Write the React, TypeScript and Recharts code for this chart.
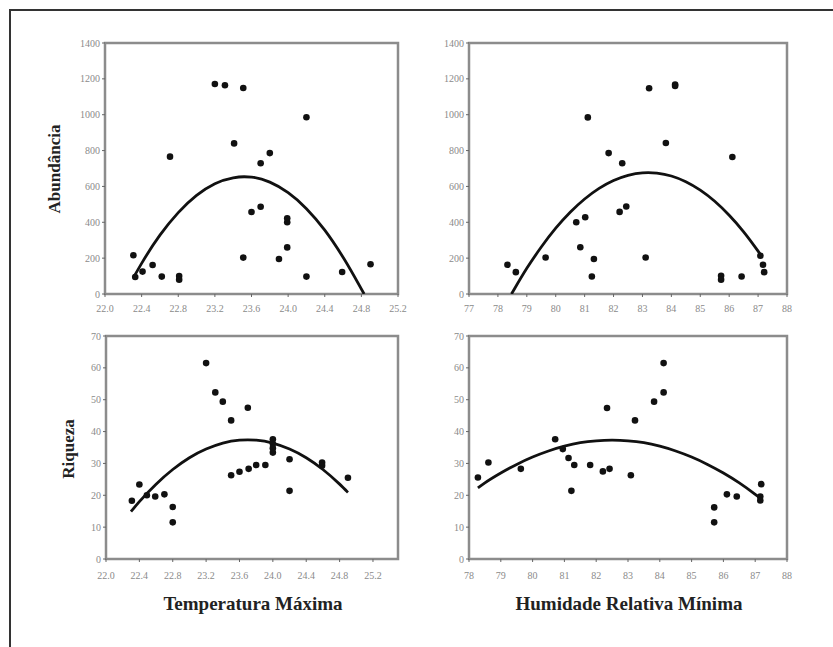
import { ScatterChart, Scatter, XAxis, YAxis, ReferenceArea } from 'recharts'

// tick labels
const tempTicks = [22.0, 22.4, 22.8, 23.2, 23.6, 24.0, 24.4, 24.8, 25.2]
const humTopTicks = [77, 78, 79, 80, 81, 82, 83, 84, 85, 86, 87, 88]
const humBottomTicks = [78, 79, 80, 81, 82, 83, 84, 85, 86, 87, 88]
const abundTicks = [0, 200, 400, 600, 800, 1000, 1200, 1400]
const riqTicks = [0, 10, 20, 30, 40, 50, 60, 70]

const abundVsTemp = [
  [22.31, 216], [22.33, 95], [22.41, 125], [22.52, 162], [22.62, 97], [22.71, 766],
  [22.81, 100], [22.81, 80], [23.2, 1171], [23.31, 1164], [23.51, 1149], [23.41, 840],
  [23.51, 203], [23.6, 457], [23.7, 487], [23.7, 729], [23.8, 786], [23.9, 195],
  [23.99, 422], [23.99, 400], [23.99, 260], [24.2, 986], [24.2, 97], [24.59, 123],
  [24.9, 166],
]
const abundVsHum = [
  [78.33, 163], [78.62, 122], [79.65, 204], [80.71, 400], [80.85, 261], [81.02, 428],
  [81.11, 985], [81.25, 98], [81.32, 195], [81.83, 786], [82.21, 458], [82.3, 729],
  [82.44, 488], [83.11, 204], [83.23, 1148], [83.81, 842], [84.13, 1168], [84.13, 1160],
  [85.72, 102], [85.72, 80], [86.11, 764], [86.43, 98], [87.08, 213], [87.17, 163],
  [87.21, 122],
]
const riqVsTemp = [
  [22.31, 18.3], [22.4, 23.4], [22.49, 20.0], [22.59, 19.6], [22.7, 20.3], [22.8, 16.3],
  [22.8, 11.5], [23.2, 61.5], [23.31, 52.3], [23.4, 49.4], [23.5, 43.5], [23.7, 47.5],
  [23.5, 26.3], [23.6, 27.4], [23.71, 28.3], [23.8, 29.5], [23.91, 29.5], [24.0, 37.6],
  [24.0, 36.2], [24.0, 34.8], [24.0, 33.4], [24.2, 31.3], [24.2, 21.4], [24.59, 30.3],
  [24.59, 29.3], [24.9, 25.5],
]
const riqVsHum = [
  [78.28, 25.6], [78.61, 30.3], [79.63, 28.3], [80.71, 37.6], [80.95, 34.5], [81.13, 31.7],
  [81.31, 29.5], [81.22, 21.4], [81.81, 29.5], [82.21, 27.5], [82.34, 47.4], [82.42, 28.3],
  [83.09, 26.3], [83.22, 43.5], [83.82, 49.4], [84.12, 61.5], [84.12, 52.3], [85.71, 16.2],
  [85.71, 11.5], [86.11, 20.3], [86.42, 19.6], [87.16, 19.6], [87.16, 18.4], [87.19, 23.5],
]

// fitted curves, sampled from the figure
const abundTempFit = [
  [22.32, 100], [22.4, 171], [22.6, 328], [22.8, 454], [23.0, 550], [23.2, 615], [23.4, 648],
  [23.52, 654], [23.6, 652], [23.8, 624], [24.0, 565], [24.2, 476], [24.4, 356], [24.6, 205],
  [24.83, 0],
]
const abundHumFit = [
  [78.47, 0], [78.6, 36], [79.0, 143], [79.5, 262], [80.0, 367], [80.5, 456], [81.0, 530],
  [81.5, 589], [82.0, 633], [82.5, 662], [83.0, 676], [83.2, 677], [83.5, 674], [84.0, 658],
  [84.5, 626], [85.0, 579], [85.5, 517], [86.0, 439], [86.5, 347], [87.0, 239], [87.13, 209],
]
const riqTempFit = [
  [22.3, 14.9], [22.4, 18.0], [22.6, 23.5], [22.8, 28.1], [23.0, 31.8], [23.2, 34.5],
  [23.4, 36.4], [23.6, 37.3], [23.7, 37.4], [23.8, 37.3], [24.0, 36.4], [24.2, 34.5],
  [24.4, 31.8], [24.6, 28.1], [24.8, 23.5], [24.9, 20.9],
]
const riqHumFit = [
  [78.28, 22.3], [78.5, 23.9], [79.0, 27.0], [79.5, 29.7], [80.0, 32.0], [80.5, 33.9],
  [81.0, 35.4], [81.5, 36.5], [82.0, 37.1], [82.5, 37.3], [83.0, 37.1], [83.5, 36.5],
  [84.0, 35.4], [84.5, 33.9], [85.0, 32.0], [85.5, 29.7], [86.0, 27.0], [86.5, 23.9],
  [87.0, 20.3], [87.13, 19.3],
]

const toXY = (rows: number[][]) => rows.map(([x, y]) => ({ x, y }))

const SERIF = '"Liberation Serif", "DejaVu Serif", serif'
const tickStyle = { fill: '#8a8a8a', fontSize: 10, fontFamily: SERIF }

interface PanelProps {
  left: number
  top: number
  plotW: number
  plotH: number
  xDomain: [number, number]
  xTicks: number[]
  yMax: number
  yTicks: number[]
  points: number[][]
  fit: number[][]
  decimals: number
  xLabelGap: number
}

// eslint-disable-next-line @typescript-eslint/no-explicit-any
const Dot = (p: any) => <circle cx={p.cx} cy={p.cy} r={3.3} fill="#111" />
const NoDot = () => <g />

function Panel({ left, top, plotW, plotH, xDomain, xTicks, yMax, yTicks, points, fit, decimals, xLabelGap }: PanelProps) {
  const m = { top: 10, right: 10, left: 5, bottom: 5 }
  const yAxisW = 40
  const xAxisH = 28
  return (
    <div style={{ position: 'absolute', left: left - m.left - yAxisW, top: top - m.top }}>
      <ScatterChart
        width={plotW + m.left + yAxisW + m.right}
        height={plotH + m.top + m.bottom + xAxisH}
        margin={m}
      >
        <XAxis
          type="number"
          dataKey="x"
          domain={xDomain}
          ticks={xTicks}
          interval={0}
          allowDataOverflow
          height={xAxisH}
          axisLine={false}
          tickLine={{ stroke: '#666' }}
          tickSize={3}
          tickMargin={xLabelGap}
          tick={tickStyle}
          tickFormatter={(v: number) => v.toFixed(decimals)}
        />
        <YAxis
          type="number"
          dataKey="y"
          domain={[0, yMax]}
          ticks={yTicks}
          interval={0}
          allowDataOverflow
          width={yAxisW}
          axisLine={false}
          tickLine={{ stroke: '#666' }}
          tickSize={3}
          tick={tickStyle}
        />
        <ReferenceArea
          x1={xDomain[0]}
          x2={xDomain[1]}
          y1={0}
          y2={yMax}
          ifOverflow="visible"
          fill="none"
          stroke="#8c8c8c"
          strokeWidth={2.5}
        />
        <Scatter
          data={toXY(points)}
          shape={Dot}
          isAnimationActive={false}
        />
        <Scatter
          data={toXY(fit)}
          shape={NoDot}
          line={{ stroke: '#111', strokeWidth: 2.8 }}
          lineJointType="monotoneX"
          isAnimationActive={false}
        />
      </ScatterChart>
    </div>
  )
}

const titleStyle = {
  position: 'absolute' as const,
  fontFamily: SERIF,
  fontWeight: 'bold' as const,
  color: '#222',
  whiteSpace: 'nowrap' as const,
  lineHeight: 1,
}

export default function App() {
  return (
    <div
      style={{
        position: 'absolute',
        left: 0,
        top: 0,
        width: 833,
        height: 647,
        overflow: 'hidden',
        background: '#fff',
      }}
    >
      <div
        style={{
          position: 'absolute',
          left: 9,
          top: 9,
          width: 830,
          height: 650,
          borderTop: '2px solid #333',
          borderLeft: '2px solid #333',
        }}
      />
      <Panel left={105} top={43} plotW={293} plotH={251} xDomain={[22, 25.2]} xTicks={tempTicks}
        yMax={1400} yTicks={abundTicks} points={abundVsTemp} fit={abundTempFit} decimals={1} xLabelGap={8} />
      <Panel left={469} top={43} plotW={318} plotH={251} xDomain={[77, 88]} xTicks={humTopTicks}
        yMax={1400} yTicks={abundTicks} points={abundVsHum} fit={abundHumFit} decimals={0} xLabelGap={8} />
      <Panel left={106} top={336} plotW={292} plotH={223} xDomain={[22, 25.5]} xTicks={tempTicks}
        yMax={70} yTicks={riqTicks} points={riqVsTemp} fit={riqTempFit} decimals={1} xLabelGap={10} />
      <Panel left={469} top={336} plotW={318} plotH={223} xDomain={[78, 88]} xTicks={humBottomTicks}
        yMax={70} yTicks={riqTicks} points={riqVsHum} fit={riqHumFit} decimals={0} xLabelGap={10} />

      <div style={{ ...titleStyle, fontSize: 17, left: 53.5, top: 168.5, transform: 'translate(-50%, -50%) rotate(-90deg)' }}>
        Abundância
      </div>
      <div style={{ ...titleStyle, fontSize: 17, left: 67.5, top: 448.5, transform: 'translate(-50%, -50%) rotate(-90deg)' }}>
        Riqueza
      </div>
      <div style={{ ...titleStyle, fontSize: 19, left: 253 - 150, width: 300, top: 594, textAlign: 'center' }}>
        Temperatura Máxima
      </div>
      <div style={{ ...titleStyle, fontSize: 19, left: 629 - 160, width: 320, top: 594, textAlign: 'center' }}>
        Humidade Relativa Mínima
      </div>
    </div>
  )
}
